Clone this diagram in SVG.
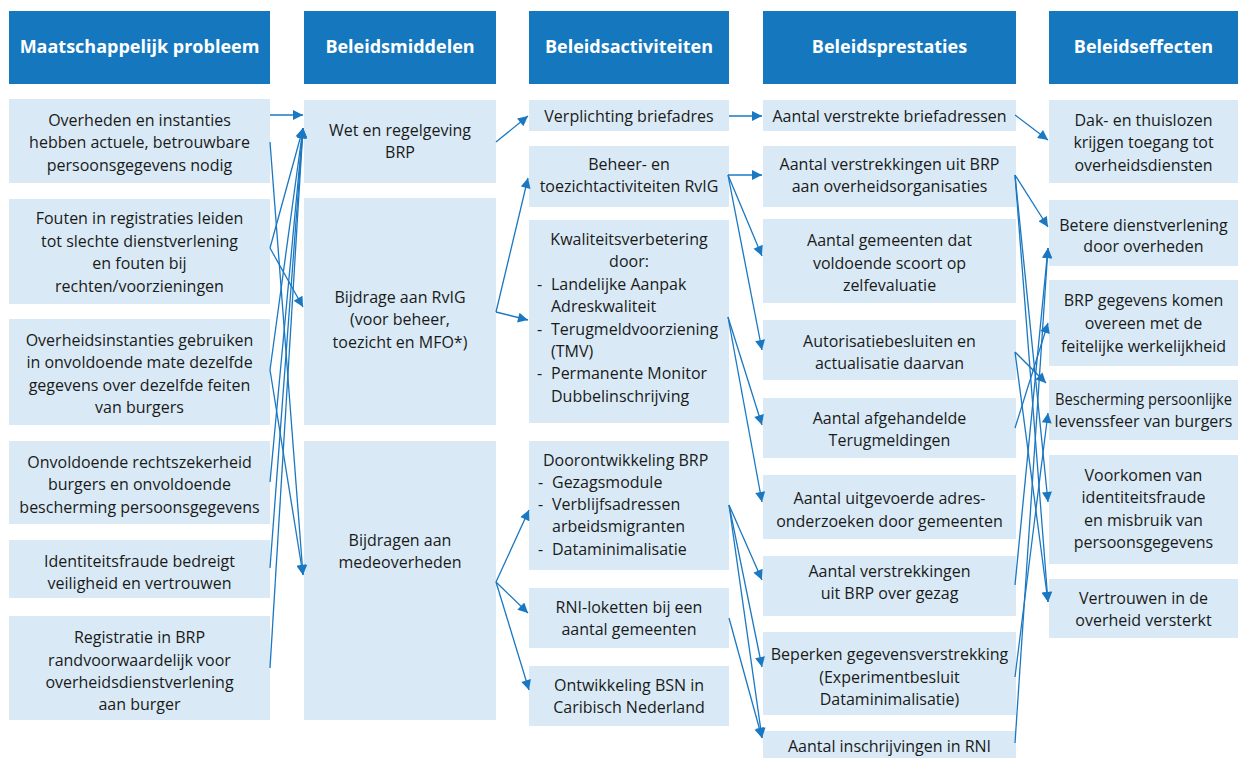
<svg xmlns="http://www.w3.org/2000/svg" width="1246" height="758" viewBox="0 0 1246 758">
<defs>
<style>
.h{fill:#1578be}
.b{fill:#d9eaf6}
.ht{font-family:"Open Sans","Noto Sans",sans-serif;font-size:18px;font-weight:bold;fill:#ffffff;text-anchor:middle}
.t{font-family:"Open Sans","Noto Sans",sans-serif;font-size:16px;fill:#1a1a1a;text-anchor:middle}
.l{font-family:"Open Sans","Noto Sans",sans-serif;font-size:16px;fill:#1a1a1a}
.c{stroke:#1a78c2;stroke-width:1.3;fill:none;marker-end:url(#ah)}
</style>
<marker id="ah" viewBox="0 0 10 10" refX="10" refY="5" markerWidth="12" markerHeight="10" markerUnits="userSpaceOnUse" orient="auto">
<path d="M0,0 L10,5 L0,10 Z" fill="#1a78c2"/>
</marker>
</defs>
<rect width="1246" height="758" fill="#ffffff"/>

<g id="headers">
<g id="h1"><rect class="h" x="9" y="11" width="261" height="73"/><text class="ht" x="139.5" y="53">Maatschappelijk probleem</text></g>
<g id="h2"><rect class="h" x="304" y="11" width="192" height="73"/><text class="ht" x="400" y="53">Beleidsmiddelen</text></g>
<g id="h3"><rect class="h" x="529" y="11" width="200" height="73"/><text class="ht" x="629" y="53">Beleidsactiviteiten</text></g>
<g id="h4"><rect class="h" x="763" y="11" width="253" height="73"/><text class="ht" x="889.5" y="53">Beleidsprestaties</text></g>
<g id="h5"><rect class="h" x="1049" y="11" width="189" height="73"/><text class="ht" x="1143.5" y="53">Beleidseffecten</text></g>
</g>

<g id="col1">
<g id="p1"><rect class="b" x="9" y="99" width="261" height="84"/><text class="t" x="139.5" y="126">Overheden en instanties</text><text class="t" x="139.5" y="148">hebben actuele, betrouwbare</text><text class="t" x="139.5" y="171">persoonsgegevens nodig</text></g>
<g id="p2"><rect class="b" x="9" y="199" width="261" height="105"/><text class="t" x="139.5" y="224">Fouten in registraties leiden</text><text class="t" x="139.5" y="247">tot slechte dienstverlening</text><text class="t" x="139.5" y="269">en fouten bij</text><text class="t" x="139.5" y="292">rechten/voorzieningen</text></g>
<g id="p3"><rect class="b" x="9" y="319" width="261" height="106"/><text class="t" x="139.5" y="346">Overheidsinstanties gebruiken</text><text class="t" x="139.5" y="368">in onvoldoende mate dezelfde</text><text class="t" x="139.5" y="391">gegevens over dezelfde feiten</text><text class="t" x="139.5" y="413">van burgers</text></g>
<g id="p4"><rect class="b" x="9" y="441" width="261" height="83"/><text class="t" x="139.5" y="468">Onvoldoende rechtszekerheid</text><text class="t" x="139.5" y="490">burgers en onvoldoende</text><text class="t" x="139.5" y="513">bescherming persoonsgegevens</text></g>
<g id="p5"><rect class="b" x="9" y="540" width="261" height="58"/><text class="t" x="139.5" y="567">Identiteitsfraude bedreigt</text><text class="t" x="139.5" y="589">veiligheid en vertrouwen</text></g>
<g id="p6"><rect class="b" x="9" y="616" width="261" height="104"/><text class="t" x="139.5" y="643">Registratie in BRP</text><text class="t" x="139.5" y="666">randvoorwaardelijk voor</text><text class="t" x="139.5" y="688">overheidsdienstverlening</text><text class="t" x="139.5" y="710">aan burger</text></g>
</g>

<g id="col2">
<g id="m1"><rect class="b" x="304" y="100" width="192" height="83"/><text class="t" x="400" y="136">Wet en regelgeving</text><text class="t" x="400" y="158">BRP</text></g>
<g id="m2"><rect class="b" x="304" y="198" width="192" height="227"/><text class="t" x="400" y="303">Bijdrage aan RvIG</text><text class="t" x="400" y="325">(voor beheer,</text><text class="t" x="400" y="348">toezicht en MFO*)</text></g>
<g id="m3"><rect class="b" x="304" y="441" width="192" height="279"/><text class="t" x="400" y="546">Bijdragen aan</text><text class="t" x="400" y="568">medeoverheden</text></g>
</g>

<g id="col3">
<g id="a1"><rect class="b" x="529" y="100" width="200" height="31"/><text class="t" x="629" y="122">Verplichting briefadres</text></g>
<g id="a2"><rect class="b" x="529" y="146" width="200" height="61"/><text class="t" x="629" y="170">Beheer- en</text><text class="t" x="629" y="192">toezichtactiviteiten RvIG</text></g>
<g id="a3"><rect class="b" x="529" y="220" width="200" height="203"/><text class="t" x="629" y="245">Kwaliteitsverbetering</text><text class="t" x="629" y="267">door:</text>
<text class="l" x="537" y="290">-</text><text class="l" x="551" y="290">Landelijke Aanpak</text><text class="l" x="551" y="312">Adreskwaliteit</text>
<text class="l" x="537" y="335">-</text><text class="l" x="551" y="335">Terugmeldvoorziening</text><text class="l" x="551" y="357">(TMV)</text>
<text class="l" x="537" y="379">-</text><text class="l" x="551" y="379">Permanente Monitor</text><text class="l" x="551" y="402">Dubbelinschrijving</text></g>
<g id="a4"><rect class="b" x="529" y="441" width="200" height="129"/><text class="l" x="543" y="466">Doorontwikkeling BRP</text>
<text class="l" x="538" y="488">-</text><text class="l" x="552" y="488">Gezagsmodule</text>
<text class="l" x="538" y="510">-</text><text class="l" x="552" y="510">Verblijfsadressen</text><text class="l" x="552" y="532">arbeidsmigranten</text>
<text class="l" x="538" y="555">-</text><text class="l" x="552" y="555">Dataminimalisatie</text></g>
<g id="a5"><rect class="b" x="529" y="588" width="200" height="60"/><text class="t" x="629" y="613">RNI-loketten bij een</text><text class="t" x="629" y="635">aantal gemeenten</text></g>
<g id="a6"><rect class="b" x="529" y="666" width="200" height="60"/><text class="t" x="629" y="691">Ontwikkeling BSN in</text><text class="t" x="629" y="713">Caribisch Nederland</text></g>
</g>

<g id="col4">
<g id="r1"><rect class="b" x="763" y="100" width="253" height="31"/><text class="t" x="889.5" y="122">Aantal verstrekte briefadressen</text></g>
<g id="r2"><rect class="b" x="763" y="146" width="253" height="61"/><text class="t" x="889.5" y="170">Aantal verstrekkingen uit BRP</text><text class="t" x="889.5" y="192">aan overheidsorganisaties</text></g>
<g id="r3"><rect class="b" x="763" y="219" width="253" height="84"/><text class="t" x="889.5" y="246">Aantal gemeenten dat</text><text class="t" x="889.5" y="269">voldoende scoort op</text><text class="t" x="889.5" y="291">zelfevaluatie</text></g>
<g id="r4"><rect class="b" x="763" y="320" width="253" height="60"/><text class="t" x="889.5" y="347">Autorisatiebesluiten en</text><text class="t" x="889.5" y="369">actualisatie daarvan</text></g>
<g id="r5"><rect class="b" x="763" y="398" width="253" height="60"/><text class="t" x="889.5" y="424">Aantal afgehandelde</text><text class="t" x="889.5" y="446">Terugmeldingen</text></g>
<g id="r6"><rect class="b" x="763" y="475" width="253" height="64"/><text class="t" x="889.5" y="504">Aantal uitgevoerde adres-</text><text class="t" x="889.5" y="527">onderzoeken door gemeenten</text></g>
<g id="r7"><rect class="b" x="763" y="556" width="253" height="60"/><text class="t" x="889.5" y="577">Aantal verstrekkingen</text><text class="t" x="889.5" y="599">uit BRP over gezag</text></g>
<g id="r8"><rect class="b" x="763" y="632" width="253" height="83"/><text class="t" x="889.5" y="660">Beperken gegevensverstrekking</text><text class="t" x="889.5" y="683">(Experimentbesluit</text><text class="t" x="889.5" y="705">Dataminimalisatie)</text></g>
<g id="r9"><rect class="b" x="763" y="731" width="253" height="27"/><text class="t" x="889.5" y="752">Aantal inschrijvingen in RNI</text></g>
</g>

<g id="col5">
<g id="e1"><rect class="b" x="1049" y="100" width="189" height="83"/><text class="t" x="1143.5" y="126">Dak- en thuislozen</text><text class="t" x="1143.5" y="148">krijgen toegang tot</text><text class="t" x="1143.5" y="171">overheidsdiensten</text></g>
<g id="e2"><rect class="b" x="1049" y="200" width="189" height="66"/><text class="t" x="1143.5" y="231">Betere dienstverlening</text><text class="t" x="1143.5" y="252">door overheden</text></g>
<g id="e3"><rect class="b" x="1049" y="280" width="189" height="86"/><text class="t" x="1143.5" y="306">BRP gegevens komen</text><text class="t" x="1143.5" y="329">overeen met de</text><text class="t" x="1143.5" y="352">feitelijke werkelijkheid</text></g>
<g id="e4"><rect class="b" x="1049" y="380" width="189" height="60"/><text class="t" x="1143.5" y="405" textLength="177" lengthAdjust="spacingAndGlyphs">Bescherming persoonlijke</text><text class="t" x="1143.5" y="427">levenssfeer van burgers</text></g>
<g id="e5"><rect class="b" x="1049" y="455" width="189" height="109"/><text class="t" x="1143.5" y="481">Voorkomen van</text><text class="t" x="1143.5" y="503">identiteitsfraude</text><text class="t" x="1143.5" y="526">en misbruik van</text><text class="t" x="1143.5" y="548">persoonsgegevens</text></g>
<g id="e6"><rect class="b" x="1049" y="579" width="189" height="59"/><text class="t" x="1143.5" y="604">Vertrouwen in de</text><text class="t" x="1143.5" y="626">overheid versterkt</text></g>
</g>

<g id="connectors">
<line class="c" x1="270" y1="115" x2="303" y2="115"/>
<line class="c" x1="270" y1="142" x2="303" y2="575"/>
<line class="c" x1="270" y1="248" x2="303" y2="128"/>
<line class="c" x1="270" y1="248" x2="303" y2="307"/>
<line class="c" x1="270" y1="370" x2="303" y2="128"/>
<line class="c" x1="270" y1="370" x2="303" y2="575"/>
<line class="c" x1="270" y1="482" x2="303" y2="128"/>
<line class="c" x1="270" y1="568" x2="303" y2="128"/>
<line class="c" x1="270" y1="668" x2="303" y2="128"/>

<line class="c" x1="496" y1="142" x2="528" y2="116"/>
<line class="c" x1="496" y1="312" x2="528" y2="178"/>
<line class="c" x1="496" y1="312" x2="528" y2="320"/>
<line class="c" x1="496" y1="582" x2="529" y2="510"/>
<line class="c" x1="496" y1="582" x2="528" y2="613"/>
<line class="c" x1="496" y1="582" x2="529" y2="690"/>

<line class="c" x1="729" y1="116" x2="762" y2="116"/>
<line class="c" x1="728" y1="175" x2="762" y2="175"/>
<line class="c" x1="728" y1="175" x2="762" y2="256"/>
<line class="c" x1="728" y1="175" x2="762" y2="350"/>
<line class="c" x1="728" y1="317" x2="762" y2="425"/>
<line class="c" x1="728" y1="317" x2="762" y2="502"/>
<line class="c" x1="729" y1="505" x2="762" y2="580"/>
<line class="c" x1="729" y1="505" x2="762" y2="667"/>
<line class="c" x1="729" y1="505" x2="762" y2="738"/>
<line class="c" x1="729" y1="618" x2="762" y2="738"/>

<line class="c" x1="1015" y1="115" x2="1048" y2="140"/>
<line class="c" x1="1015" y1="175" x2="1048" y2="227"/>
<line class="c" x1="1015" y1="175" x2="1048" y2="502"/>
<line class="c" x1="1015" y1="175" x2="1048" y2="602"/>
<line class="c" x1="1015" y1="352" x2="1046" y2="383"/>
<line class="c" x1="1015" y1="352" x2="1048" y2="602"/>
<line class="c" x1="1015" y1="428" x2="1048" y2="323"/>
<line class="c" x1="1015" y1="585" x2="1048" y2="248"/>
<line class="c" x1="1015" y1="677" x2="1048" y2="413"/>
<line class="c" x1="1015" y1="743" x2="1048" y2="248"/>
</g>
</svg>
